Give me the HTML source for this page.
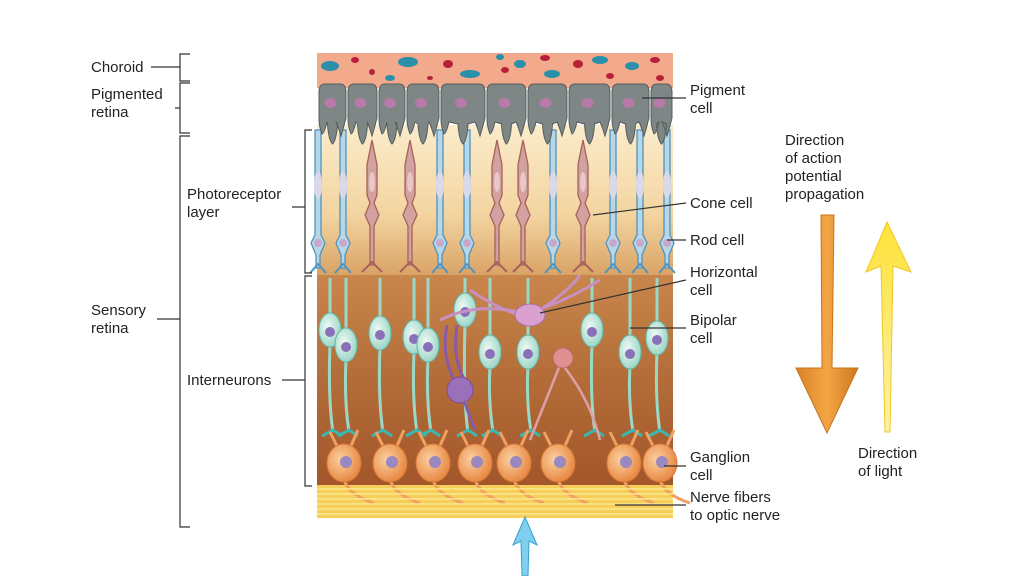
<!DOCTYPE html>
<html><head><meta charset="utf-8"><style>
html,body{margin:0;padding:0;background:#fff;width:1024px;height:576px;overflow:hidden}
svg{position:absolute;left:0;top:0}
text{font-family:"Liberation Sans",sans-serif;font-size:15px;fill:#222}
</style></head><body>
<svg id="s" width="1024" height="576" viewBox="0 0 1024 576">
<defs>
<linearGradient id="pr" x1="0" y1="0" x2="0" y2="1">
<stop offset="0" stop-color="#fbeccb"/><stop offset="0.6" stop-color="#f3d4a0"/><stop offset="1" stop-color="#d9a366"/></linearGradient>
<linearGradient id="inter" x1="0" y1="0" x2="0" y2="1">
<stop offset="0" stop-color="#c8864c"/><stop offset="0.5" stop-color="#b36c38"/><stop offset="1" stop-color="#a2562a"/></linearGradient>
<linearGradient id="orng" x1="0" y1="0" x2="1" y2="0">
<stop offset="0" stop-color="#d9822a"/><stop offset="0.5" stop-color="#f3a544"/><stop offset="1" stop-color="#d07820"/></linearGradient>
<linearGradient id="yel" x1="0" y1="0" x2="0" y2="1">
<stop offset="0" stop-color="#ffe23a"/><stop offset="1" stop-color="#fbf2a8"/></linearGradient>
<radialGradient id="gang" cx="0.4" cy="0.4" r="0.6"><stop offset="0" stop-color="#fbd0a0"/><stop offset="1" stop-color="#e88a45"/></radialGradient>
<radialGradient id="bip" cx="0.4" cy="0.4" r="0.6"><stop offset="0" stop-color="#eefaf4"/><stop offset="1" stop-color="#9fd6c8"/></radialGradient>
</defs>
<rect x="317" y="53" width="356" height="35" fill="#f2a98c"/>
<rect x="317" y="125" width="356" height="150" fill="url(#pr)"/>
<rect x="317" y="275" width="356" height="212" fill="url(#inter)"/>
<rect x="317" y="485" width="356" height="33" fill="#f5cf5a"/>
<g id="cells"></g>
<g stroke="#333" stroke-width="1.2" fill="none">
<path d="M190 54H180V81H190M180 67H151"/>
<path d="M190 83H180V133H190M180 108H175"/>
<path d="M190 136H180V527H190M180 319H157"/>
<path d="M312 130H305V273H312M305 207H292"/>
<path d="M312 276H305V486H312M305 380H282"/>
<path d="M686 98H642M686 203L593 215M686 240H667M686 280L540 313M686 328H630M686 466H664M686 505H615"/>
</g>
<text x="91" y="72">Choroid</text>
<text x="91" y="99">Pigmented</text><text x="91" y="117">retina</text>
<text x="91" y="315">Sensory</text><text x="91" y="333">retina</text>
<text x="187" y="199">Photoreceptor</text><text x="187" y="217">layer</text>
<text x="187" y="385">Interneurons</text>
<text x="690" y="95">Pigment</text><text x="690" y="113">cell</text>
<text x="690" y="208">Cone cell</text>
<text x="690" y="245">Rod cell</text>
<text x="690" y="277">Horizontal</text><text x="690" y="295">cell</text>
<text x="690" y="325">Bipolar</text><text x="690" y="343">cell</text>
<text x="690" y="462">Ganglion</text><text x="690" y="480">cell</text>
<text x="690" y="502">Nerve fibers</text><text x="690" y="520">to optic nerve</text>
<text x="785" y="145">Direction</text><text x="785" y="163">of action</text><text x="785" y="181">potential</text><text x="785" y="199">propagation</text>
<text x="858" y="458">Direction</text><text x="858" y="476">of light</text>
<path d="M821 215L834 215L832 368L858 368L827 433L796 368L822 368Z" fill="url(#orng)" stroke="#c8741c" stroke-width="1"/>
<path d="M887 222L911 272L893 266L890 432L885 432L881 266L866 272Z" fill="url(#yel)" stroke="#f0c820" stroke-width="1"/>
<path d="M525 517L537 545L529 541L528 576L522 576L521 541L513 545Z" fill="#7fd0ee" stroke="#3aa0d0" stroke-width="1"/>
</svg>
<script>
var g=document.getElementById('cells'),h='';
function add(s){h+=s;}
var bl=[[330,66,'#2a8fa8',9,5],[355,60,'#b8203a',4,3],[372,72,'#b8203a',3,3],[408,62,'#2a8fa8',10,5],[448,64,'#b8203a',5,4],[470,74,'#2a8fa8',10,4],[500,57,'#2a8fa8',4,3],[505,70,'#b8203a',4,3],[520,64,'#2a8fa8',6,4],[545,58,'#b8203a',5,3],[552,74,'#2a8fa8',8,4],[578,64,'#b8203a',5,4],[600,60,'#2a8fa8',8,4],[610,76,'#b8203a',4,3],[632,66,'#2a8fa8',7,4],[655,60,'#b8203a',5,3],[660,78,'#b8203a',4,3],[430,78,'#b8203a',3,2],[390,78,'#2a8fa8',5,3]];
bl.forEach(function(b){add('<ellipse cx="'+b[0]+'" cy="'+b[1]+'" rx="'+b[3]+'" ry="'+b[4]+'" fill="'+b[2]+'"/>');});
var rods=[318,343,440,467,553,613,640,667],cones=[372,410,497,523,583];
rods.forEach(function(x){add('<path d="M'+(x-3)+' 130H'+(x+3)+'V235L'+(x+7)+' 243L'+(x+2)+' 255V268H'+(x-2)+'V255L'+(x-7)+' 243L'+(x-3)+' 235Z" fill="#b7d6e6" stroke="#4f94c0" stroke-width="1.3"/><ellipse cx="'+x+'" cy="185" rx="4" ry="14" fill="#d8d8e8"/><circle cx="'+x+'" cy="243" r="4" fill="#c6a8cc"/><path d="M'+(x-8)+' 273L'+x+' 264L'+(x+8)+' 273" stroke="#4f94c0" stroke-width="2" fill="none"/>');});
cones.forEach(function(x){add('<path d="M'+x+' 140L'+(x+5)+' 165V195L'+(x+2)+' 203L'+(x+7)+' 215L'+(x+2)+' 226V265H'+(x-2)+'V226L'+(x-7)+' 215L'+(x-2)+' 203L'+(x-5)+' 195V165Z" fill="#d2a2a0" stroke="#a8605c" stroke-width="1.3"/><ellipse cx="'+x+'" cy="182" rx="3" ry="10" fill="#e8c8c8"/><path d="M'+(x-10)+' 272L'+x+' 262L'+(x+10)+' 272" stroke="#a8605c" stroke-width="2" fill="none"/>');});
var px=[318,347,378,406,440,486,527,568,611,650,673];
for(var i=0;i<10;i++){var a=px[i]+1,b=px[i+1]-1,m=(a+b)/2;
add('<path d="M'+a+' 92Q'+a+' 84 '+(a+6)+' 84H'+(b-6)+'Q'+b+' 84 '+b+' 92V118Q'+(b-2)+' 126 '+(b-5)+' 136Q'+(b-8)+' 126 '+(b-10)+' 122L'+(m+5)+' 124Q'+(m+4)+' 140 '+m+' 144Q'+(m-4)+' 140 '+(m-5)+' 124L'+(a+8)+' 122Q'+(a+5)+' 134 '+(a+3)+' 134Q'+a+' 126 '+a+' 120Z" fill="#7e8686" stroke="#565c5c" stroke-width="1"/><ellipse cx="'+(m-2)+'" cy="103" rx="6" ry="5" fill="#b87aa8"/>');}
var bp=[[330,330],[346,345],[380,333],[414,337],[428,345],[465,310],[490,352],[528,352],[592,330],[630,352],[657,338]];
bp.forEach(function(c){var x=c[0],y=c[1];add('<path d="M'+x+' 278V'+(y-14)+'M'+x+' '+(y+14)+'Q'+(x-2)+' 400 '+(x+3)+' 432" stroke="#9ad8c8" stroke-width="3" fill="none"/><ellipse cx="'+x+'" cy="'+y+'" rx="11" ry="17" fill="url(#bip)" stroke="#60b8a8"/><circle cx="'+x+'" cy="'+(y+2)+'" r="5" fill="#8a70b8"/><path d="M'+(x-8)+' 436L'+(x+3)+' 430L'+(x+12)+' 436" stroke="#3ab8b0" stroke-width="3" fill="none"/>');});
add('<path d="M470 290Q500 310 520 315Q560 305 600 280M530 315Q480 300 440 320M540 310Q570 290 580 275" stroke="#c890c0" stroke-width="3" fill="none"/><ellipse cx="530" cy="315" rx="15" ry="11" fill="#d9a0d0" stroke="#b070a8"/>');
add('<path d="M447 325Q440 360 460 390L475 430M457 325Q452 360 465 380" stroke="#8a5aa8" stroke-width="3" fill="none"/><circle cx="460" cy="390" r="13" fill="#9a70b8" stroke="#7a4aa0"/>');
add('<path d="M560 365L530 440M565 368Q590 400 600 440" stroke="#e0a0a8" stroke-width="2.5" fill="none"/><circle cx="563" cy="358" r="10" fill="#e09090" stroke="#c06868"/>');
var gx=[344,390,433,475,514,558,624,660];
gx.forEach(function(x){add('<path d="M'+(x-6)+' 448L'+(x-14)+' 432M'+(x+6)+' 448L'+(x+14)+' 430M'+x+' 480Q'+(x+5)+' 495 '+(x+30)+' 503" stroke="#f0a060" stroke-width="3" fill="none"/><ellipse cx="'+x+'" cy="463" rx="17" ry="19" fill="url(#gang)" stroke="#d87838"/><circle cx="'+(x+2)+'" cy="462" r="6" fill="#9a88c0"/>');});
for(var y=489;y<517;y+=5)add('<line x1="317" y1="'+y+'" x2="673" y2="'+y+'" stroke="#fbe890" stroke-width="1.5"/>');
g.innerHTML=h;
</script>
</body></html>
